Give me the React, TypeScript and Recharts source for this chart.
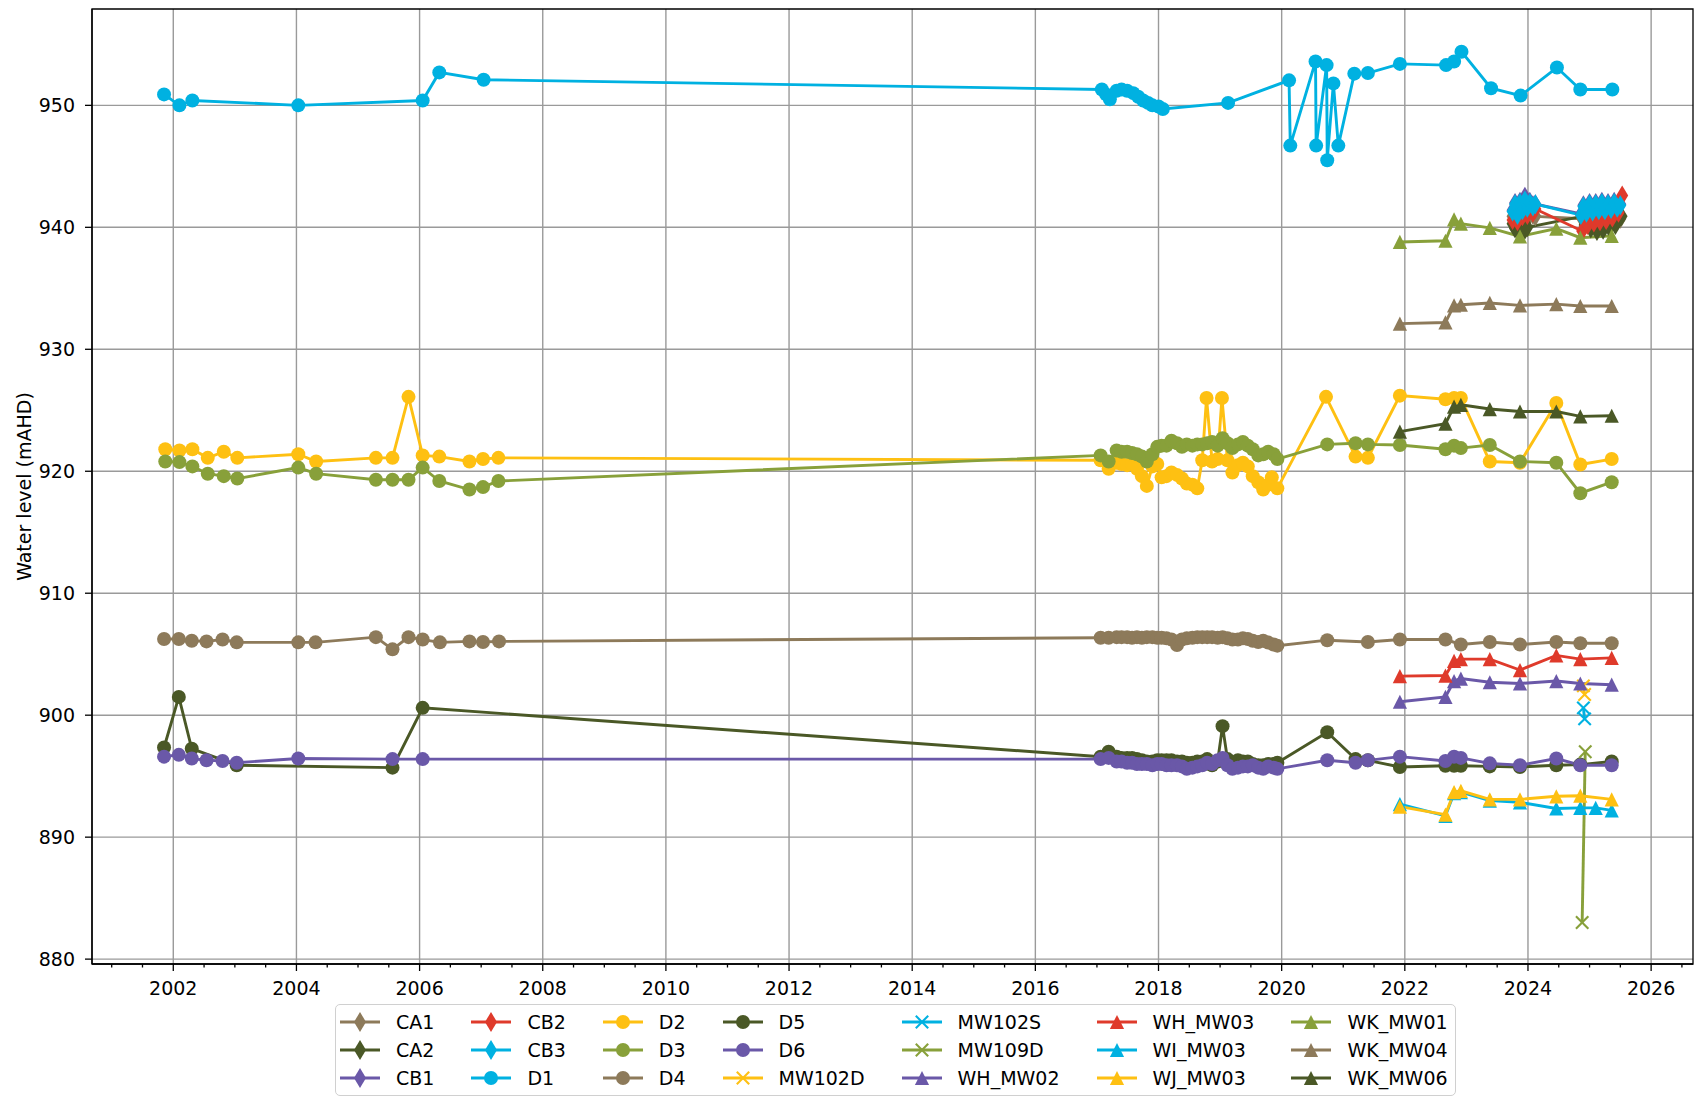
import React from 'react';
import { LineChart, Line, XAxis, YAxis, CartesianGrid, Legend, ReferenceArea } from 'recharts';

type P = [number, number];

// ---------- data: [decimal year, water level mAHD] ----------
const CA1: P[] = [
  [2023.75, 940.9], [2023.83, 940.6], [2023.91, 941.1], [2023.99, 940.7], [2024.08, 941.0], [2024.12, 940.9],
  [2024.88, 940.7], [2024.95, 940.3], [2025.05, 940.8], [2025.15, 940.4], [2025.25, 940.9], [2025.35, 940.5],
  [2025.45, 940.9], [2025.5, 940.7],
];
const CA2: P[] = [
  [2023.75, 940.3], [2023.79, 939.9], [2023.83, 940.4], [2023.87, 939.8], [2023.91, 940.2], [2023.95, 939.8],
  [2023.99, 940.0], [2024.88, 940.9], [2024.92, 940.2], [2024.97, 940.7], [2025.02, 939.9], [2025.07, 940.4],
  [2025.12, 939.7], [2025.17, 940.3], [2025.22, 939.8], [2025.27, 940.4], [2025.32, 940.0], [2025.37, 940.6],
  [2025.42, 940.2], [2025.47, 940.7], [2025.52, 940.9],
];
const CB1: P[] = [
  [2023.75, 941.4], [2023.79, 942.0], [2023.83, 941.1], [2023.87, 942.1], [2023.91, 941.5], [2023.95, 942.5],
  [2023.99, 941.7], [2024.03, 942.1], [2024.08, 941.8], [2024.12, 941.9], [2024.86, 941.1], [2024.9, 941.8],
  [2024.95, 941.3], [2025.0, 942.0], [2025.05, 941.4], [2025.1, 942.0], [2025.15, 941.5], [2025.2, 942.1],
  [2025.25, 941.5], [2025.3, 942.0], [2025.35, 941.6], [2025.4, 942.1], [2025.45, 941.7], [2025.5, 941.9],
];
const CB2: P[] = [
  [2023.75, 940.6], [2023.79, 941.2], [2023.83, 940.5], [2023.87, 941.4], [2023.91, 940.9], [2023.95, 941.6],
  [2023.99, 941.0], [2024.03, 941.5], [2024.08, 941.2], [2024.12, 941.5], [2024.88, 939.7], [2024.92, 940.6],
  [2024.97, 940.2], [2025.02, 941.0], [2025.07, 940.4], [2025.12, 941.1], [2025.17, 940.5], [2025.22, 941.2],
  [2025.27, 940.6], [2025.32, 941.2], [2025.37, 940.8], [2025.42, 941.4], [2025.47, 941.2], [2025.53, 942.6],
];
const CB3: P[] = [
  [2023.75, 941.3], [2023.79, 941.9], [2023.83, 941.0], [2023.87, 942.0], [2023.91, 941.4], [2023.95, 942.2],
  [2023.99, 941.6], [2024.03, 942.0], [2024.08, 941.7], [2024.12, 941.9], [2024.86, 941.0], [2024.9, 941.7],
  [2024.95, 941.2], [2025.0, 941.9], [2025.05, 941.3], [2025.1, 941.9], [2025.15, 941.4], [2025.2, 942.0],
  [2025.25, 941.4], [2025.3, 941.9], [2025.35, 941.5], [2025.4, 942.0], [2025.45, 941.6], [2025.5, 941.8],
];
const D1: P[] = [
  [2001.85, 950.9], [2002.1, 950.0], [2002.31, 950.4], [2004.03, 950.0], [2006.05, 950.4], [2006.32, 952.7],
  [2007.04, 952.1], [2017.08, 951.3], [2017.15, 950.9], [2017.21, 950.5], [2017.32, 951.2], [2017.4, 951.3],
  [2017.49, 951.2], [2017.59, 951.0], [2017.67, 950.7], [2017.75, 950.4], [2017.83, 950.2], [2017.9, 950.0],
  [2018.0, 949.9], [2018.07, 949.7], [2019.13, 950.2], [2020.12, 952.05], [2020.14, 946.7], [2020.55, 953.6],
  [2020.56, 946.7], [2020.73, 953.3], [2020.74, 945.5], [2020.84, 951.8], [2020.92, 946.7], [2021.18, 952.6],
  [2021.4, 952.65], [2021.92, 953.4], [2022.67, 953.3], [2022.8, 953.6], [2022.92, 954.4], [2023.4, 951.4],
  [2023.88, 950.8], [2024.47, 953.1], [2024.85, 951.3], [2025.37, 951.3],
];
const D2: P[] = [
  [2001.87, 921.8], [2002.1, 921.7], [2002.31, 921.8], [2002.56, 921.1], [2002.82, 921.6], [2003.04, 921.1],
  [2004.03, 921.4], [2004.32, 920.8], [2005.29, 921.1], [2005.56, 921.1], [2005.82, 926.1], [2006.05, 921.3],
  [2006.32, 921.2], [2006.81, 920.8], [2007.03, 921.0], [2007.28, 921.1],
  [2017.06, 920.9], [2017.19, 920.2], [2017.32, 920.7], [2017.4, 920.6], [2017.49, 920.5], [2017.57, 920.6],
  [2017.65, 920.2], [2017.73, 919.6], [2017.81, 918.8], [2017.9, 920.4], [2017.98, 920.6], [2018.05, 919.5],
  [2018.13, 919.6], [2018.21, 919.9], [2018.3, 919.7], [2018.38, 919.4], [2018.46, 919.0], [2018.55, 918.9],
  [2018.63, 918.6], [2018.71, 920.9], [2018.78, 926.0], [2018.87, 920.8], [2018.96, 921.0], [2019.03, 926.0],
  [2019.12, 920.9], [2019.2, 919.9], [2019.29, 920.5], [2019.37, 920.7], [2019.45, 920.4], [2019.53, 919.6],
  [2019.62, 919.1], [2019.7, 918.5], [2019.78, 918.9], [2019.84, 919.5], [2019.93, 918.6],
  [2020.72, 926.1], [2021.2, 921.2], [2021.4, 921.1], [2021.92, 926.2], [2022.66, 925.9], [2022.8, 926.0],
  [2022.91, 926.0], [2023.38, 920.8], [2023.87, 920.7], [2024.46, 925.6], [2024.85, 920.55], [2025.36, 921.0],
];
const D3: P[] = [
  [2001.87, 920.8], [2002.1, 920.75], [2002.31, 920.4], [2002.56, 919.8], [2002.82, 919.6], [2003.04, 919.4],
  [2004.03, 920.3], [2004.32, 919.8], [2005.29, 919.3], [2005.56, 919.3], [2005.82, 919.3], [2006.05, 920.3],
  [2006.32, 919.2], [2006.81, 918.5], [2007.03, 918.7], [2007.28, 919.2],
  [2017.06, 921.3], [2017.19, 920.8], [2017.32, 921.7], [2017.4, 921.6], [2017.49, 921.6], [2017.57, 921.5],
  [2017.65, 921.4], [2017.73, 921.2], [2017.81, 920.8], [2017.9, 921.4], [2017.98, 922.0], [2018.05, 922.1],
  [2018.13, 922.1], [2018.21, 922.5], [2018.3, 922.3], [2018.38, 922.0], [2018.46, 922.2], [2018.55, 922.1],
  [2018.63, 922.2], [2018.71, 922.2], [2018.79, 922.3], [2018.87, 922.4], [2018.96, 922.1], [2019.04, 922.7],
  [2019.12, 922.3], [2019.2, 921.9], [2019.29, 922.2], [2019.37, 922.4], [2019.45, 922.1], [2019.53, 921.8],
  [2019.62, 921.3], [2019.7, 921.4], [2019.78, 921.6], [2019.87, 921.4], [2019.93, 921.0],
  [2020.74, 922.2], [2021.2, 922.3], [2021.4, 922.2], [2021.92, 922.15], [2022.66, 921.8], [2022.8, 922.1],
  [2022.91, 921.9], [2023.38, 922.15], [2023.87, 920.8], [2024.46, 920.7], [2024.85, 918.2], [2025.36, 919.1],
];
const D4: P[] = [
  [2001.85, 906.25], [2002.09, 906.25], [2002.3, 906.1], [2002.54, 906.05], [2002.8, 906.2], [2003.03, 905.97],
  [2004.03, 905.97], [2004.31, 905.97], [2005.29, 906.4], [2005.56, 905.4], [2005.82, 906.4], [2006.05, 906.2],
  [2006.33, 905.97], [2006.81, 906.05], [2007.03, 906.0], [2007.29, 906.05],
  [2017.06, 906.35], [2017.19, 906.35], [2017.32, 906.4], [2017.4, 906.4], [2017.49, 906.4], [2017.57, 906.35],
  [2017.65, 906.4], [2017.73, 906.35], [2017.81, 906.4], [2017.9, 906.4], [2017.98, 906.35], [2018.05, 906.35],
  [2018.13, 906.3], [2018.21, 906.2], [2018.3, 905.75], [2018.38, 906.2], [2018.46, 906.3], [2018.55, 906.35],
  [2018.63, 906.4], [2018.71, 906.4], [2018.79, 906.4], [2018.87, 906.4], [2018.96, 906.35], [2019.04, 906.4],
  [2019.12, 906.3], [2019.2, 906.2], [2019.29, 906.2], [2019.37, 906.3], [2019.45, 906.25], [2019.53, 906.1],
  [2019.62, 906.0], [2019.7, 906.1], [2019.78, 905.95], [2019.87, 905.8], [2019.93, 905.7],
  [2020.74, 906.15], [2021.4, 906.0], [2021.92, 906.2], [2022.66, 906.2], [2022.91, 905.8], [2023.38, 906.0],
  [2023.87, 905.8], [2024.46, 906.0], [2024.85, 905.9], [2025.36, 905.9],
];
const D5: P[] = [
  [2001.85, 897.35], [2002.09, 901.5], [2002.3, 897.25], [2003.03, 895.9], [2005.56, 895.7], [2006.05, 900.6],
  [2017.06, 896.6], [2017.19, 897.0], [2017.32, 896.6], [2017.4, 896.5], [2017.49, 896.5], [2017.57, 896.5],
  [2017.65, 896.4], [2017.73, 896.3], [2017.81, 896.2], [2017.9, 896.2], [2017.98, 896.3], [2018.05, 896.3],
  [2018.13, 896.3], [2018.21, 896.3], [2018.3, 896.2], [2018.38, 896.2], [2018.46, 896.1], [2018.55, 896.1],
  [2018.63, 896.2], [2018.71, 896.2], [2018.79, 896.4], [2018.87, 895.9], [2018.96, 896.2], [2019.04, 899.1],
  [2019.12, 896.4], [2019.2, 896.0], [2019.29, 896.3], [2019.37, 896.2], [2019.45, 896.2], [2019.53, 896.0],
  [2019.62, 895.9], [2019.7, 895.9], [2019.78, 896.0], [2019.87, 896.0], [2019.93, 896.1],
  [2020.74, 898.6], [2021.2, 896.4], [2021.4, 896.3], [2021.92, 895.75], [2022.66, 895.85], [2022.8, 895.85],
  [2022.91, 895.85], [2023.38, 895.8], [2023.87, 895.75], [2024.46, 895.9], [2024.85, 895.95], [2025.36, 896.2],
];
const D6: P[] = [
  [2001.85, 896.6], [2002.09, 896.75], [2002.3, 896.45], [2002.54, 896.3], [2002.8, 896.25], [2003.03, 896.1],
  [2004.03, 896.45], [2005.56, 896.4], [2006.05, 896.4],
  [2017.06, 896.4], [2017.19, 896.5], [2017.32, 896.2], [2017.4, 896.2], [2017.49, 896.1], [2017.57, 896.1],
  [2017.65, 896.0], [2017.73, 896.0], [2017.81, 896.0], [2017.9, 895.9], [2017.98, 896.0], [2018.05, 896.0],
  [2018.13, 895.9], [2018.21, 895.9], [2018.3, 895.9], [2018.38, 895.8], [2018.46, 895.6], [2018.55, 895.7],
  [2018.63, 895.8], [2018.71, 895.9], [2018.79, 896.1], [2018.87, 896.0], [2018.96, 896.3], [2019.04, 896.5],
  [2019.12, 895.9], [2019.2, 895.6], [2019.29, 895.7], [2019.37, 895.8], [2019.45, 895.8], [2019.53, 895.9],
  [2019.62, 895.7], [2019.7, 895.6], [2019.78, 895.8], [2019.87, 895.7], [2019.93, 895.6],
  [2020.74, 896.3], [2021.2, 896.1], [2021.4, 896.3], [2021.92, 896.6], [2022.66, 896.25], [2022.8, 896.6],
  [2022.91, 896.5], [2023.38, 896.05], [2023.87, 895.9], [2024.46, 896.45], [2024.85, 895.9], [2025.36, 895.9],
];
const MW102D: P[] = [[2024.9, 902.4], [2024.92, 901.7]];
const MW102S: P[] = [[2024.9, 900.6], [2024.92, 899.7]];
const MW109D: P[] = [[2024.88, 883.0], [2024.93, 897.0]];
const WH_MW02: P[] = [
  [2021.92, 901.1], [2022.66, 901.5], [2022.8, 902.8], [2022.91, 903.0], [2023.38, 902.7], [2023.87, 902.6],
  [2024.46, 902.8], [2024.85, 902.6], [2025.36, 902.5],
];
const WH_MW03: P[] = [
  [2021.92, 903.2], [2022.66, 903.25], [2022.8, 904.45], [2022.91, 904.6], [2023.38, 904.6], [2023.87, 903.7],
  [2024.46, 904.9], [2024.85, 904.6], [2025.36, 904.7],
];
const WI_MW03: P[] = [
  [2021.92, 892.7], [2022.66, 891.75], [2022.8, 893.6], [2022.91, 893.7], [2023.38, 893.0], [2023.87, 892.85],
  [2024.46, 892.35], [2024.85, 892.4], [2025.1, 892.4], [2025.36, 892.2],
];
const WJ_MW03: P[] = [
  [2021.92, 892.5], [2022.66, 891.85], [2022.8, 893.7], [2022.91, 893.8], [2023.38, 893.1], [2023.87, 893.1],
  [2024.46, 893.35], [2024.85, 893.4], [2025.36, 893.1],
];
const WK_MW01: P[] = [
  [2021.92, 938.8], [2022.66, 938.9], [2022.8, 940.65], [2022.91, 940.3], [2023.38, 939.95], [2023.87, 939.25],
  [2024.46, 939.9], [2024.85, 939.15], [2025.36, 939.3],
];
const WK_MW04: P[] = [
  [2021.92, 932.1], [2022.66, 932.2], [2022.8, 933.6], [2022.91, 933.65], [2023.38, 933.8], [2023.87, 933.6],
  [2024.46, 933.7], [2024.85, 933.55], [2025.36, 933.55],
];
const WK_MW06: P[] = [
  [2021.92, 923.25], [2022.66, 923.9], [2022.8, 925.3], [2022.91, 925.45], [2023.38, 925.1], [2023.87, 924.9],
  [2024.46, 924.9], [2024.85, 924.5], [2025.36, 924.55],
];

// ---------- axes ----------
const X_DOMAIN: [number, number] = [2000.68, 2026.68];
const Y_DOMAIN: [number, number] = [879.6, 957.9];
const MAJOR_YEARS = [2002, 2004, 2006, 2008, 2010, 2012, 2014, 2016, 2018, 2020, 2022, 2024, 2026];
const X_TICKS = [
  2001, 2001.5, 2002, 2002.5, 2003, 2003.5, 2004, 2004.5, 2005, 2005.5, 2006, 2006.5, 2007, 2007.5,
  2008, 2008.5, 2009, 2009.5, 2010, 2010.5, 2011, 2011.5, 2012, 2012.5, 2013, 2013.5, 2014, 2014.5,
  2015, 2015.5, 2016, 2016.5, 2017, 2017.5, 2018, 2018.5, 2019, 2019.5, 2020, 2020.5, 2021, 2021.5,
  2022, 2022.5, 2023, 2023.5, 2024, 2024.5, 2025, 2025.5, 2026, 2026.5,
];
const Y_TICKS = [880, 890, 900, 910, 920, 930, 940, 950];

// ---------- style ----------
const BROWN = '#8D7A5A';
const DKOLIVE = '#4A5826';
const PURPLE = '#6A58A8';
const RED = '#DF3A2B';
const BLUE = '#00B1E1';
const YELLOW = '#FEC012';
const GREEN = '#88A03A';
const FONT = 'DejaVu Sans';
const LW = 2.9;

type MarkerKind = 'diamond' | 'circle' | 'x' | 'triangle';

const SERIES: { name: string; pts: P[]; color: string; marker: MarkerKind }[] = [
  { name: 'CA1', pts: CA1, color: BROWN, marker: 'diamond' },
  { name: 'CA2', pts: CA2, color: DKOLIVE, marker: 'diamond' },
  { name: 'CB1', pts: CB1, color: PURPLE, marker: 'diamond' },
  { name: 'CB2', pts: CB2, color: RED, marker: 'diamond' },
  { name: 'CB3', pts: CB3, color: BLUE, marker: 'diamond' },
  { name: 'D1', pts: D1, color: BLUE, marker: 'circle' },
  { name: 'D2', pts: D2, color: YELLOW, marker: 'circle' },
  { name: 'D3', pts: D3, color: GREEN, marker: 'circle' },
  { name: 'D4', pts: D4, color: BROWN, marker: 'circle' },
  { name: 'D5', pts: D5, color: DKOLIVE, marker: 'circle' },
  { name: 'D6', pts: D6, color: PURPLE, marker: 'circle' },
  { name: 'MW102D', pts: MW102D, color: YELLOW, marker: 'x' },
  { name: 'MW102S', pts: MW102S, color: BLUE, marker: 'x' },
  { name: 'MW109D', pts: MW109D, color: GREEN, marker: 'x' },
  { name: 'WH_MW02', pts: WH_MW02, color: PURPLE, marker: 'triangle' },
  { name: 'WH_MW03', pts: WH_MW03, color: RED, marker: 'triangle' },
  { name: 'WI_MW03', pts: WI_MW03, color: BLUE, marker: 'triangle' },
  { name: 'WJ_MW03', pts: WJ_MW03, color: YELLOW, marker: 'triangle' },
  { name: 'WK_MW01', pts: WK_MW01, color: GREEN, marker: 'triangle' },
  { name: 'WK_MW04', pts: WK_MW04, color: BROWN, marker: 'triangle' },
  { name: 'WK_MW06', pts: WK_MW06, color: DKOLIVE, marker: 'triangle' },
];
const LOOKUP: Record<string, { color: string; marker: MarkerKind }> = {};
SERIES.forEach((s) => { LOOKUP[s.name] = { color: s.color, marker: s.marker }; });

const Marker = ({ kind, color, cx, cy }: { kind: MarkerKind; color: string; cx: number; cy: number }) => {
  if (kind === 'circle') return <circle cx={cx} cy={cy} r={7} fill={color} />;
  if (kind === 'diamond') {
    const h = 10, w = 6;
    return <polygon points={`${cx},${cy - h} ${cx + w},${cy} ${cx},${cy + h} ${cx - w},${cy}`} fill={color} />;
  }
  if (kind === 'triangle') {
    const s = 7.1;
    return <polygon points={`${cx},${cy - s} ${cx + s},${cy + s} ${cx - s},${cy + s}`} fill={color} />;
  }
  const d = 6.2;
  return (
    <g stroke={color} strokeWidth={2.1}>
      <line x1={cx - d} y1={cy - d} x2={cx + d} y2={cy + d} />
      <line x1={cx - d} y1={cy + d} x2={cx + d} y2={cy - d} />
    </g>
  );
};

const makeDot = (kind: MarkerKind, color: string) => (props: any) => {
  const { cx, cy, index } = props;
  if (cx == null || cy == null || isNaN(cx) || isNaN(cy)) return <g key={`e${index}`} />;
  return <Marker key={`m${index}`} kind={kind} color={color} cx={cx} cy={cy} />;
};

const XTick = (props: any) => {
  const { x, y, payload } = props;
  const v = payload.value;
  const major = MAJOR_YEARS.indexOf(v) >= 0;
  return (
    <g>
      <line x1={x} x2={x} y1={y} y2={y + (major ? 7 : 3.5)} stroke="#000" strokeWidth={1.3} />
      {major && (
        <text x={x} y={y + 31} textAnchor="middle" fontSize={19} fontFamily={FONT} fill="#000">
          {v}
        </text>
      )}
    </g>
  );
};

const renderLegend = (props: any) => {
  const payload = props.payload || [];
  return (
    <div
      style={{
        display: 'inline-grid',
        gridTemplateRows: 'repeat(3, 28px)',
        gridAutoFlow: 'column',
        columnGap: 37,
        padding: '3px 7px 3px 4px',
        border: '1px solid #d0d0d0',
        borderRadius: 5,
        background: '#fff',
        fontFamily: FONT,
        fontSize: 19,
        color: '#000',
        boxSizing: 'border-box',
      }}
    >
      {payload.map((e: any) => {
        const s = LOOKUP[e.value] || { color: e.color, marker: 'circle' as MarkerKind };
        return (
          <div key={e.value} style={{ display: 'flex', alignItems: 'center', whiteSpace: 'nowrap', height: 28 }}>
            <svg width={40} height={26} style={{ overflow: 'visible' }}>
              <line x1={0} y1={13} x2={40} y2={13} stroke={s.color} strokeWidth={LW} />
              <Marker kind={s.marker} color={s.color} cx={20} cy={13} />
            </svg>
            <span style={{ marginLeft: 16, lineHeight: '28px' }}>{e.value}</span>
          </div>
        );
      })}
    </div>
  );
};

const YLabel = (props: any) => {
  const vb = props.viewBox || {};
  const cy = (vb.y || 0) + (vb.height || 0) / 2;
  return (
    <text
      x={24}
      y={cy}
      transform={`rotate(-90, 24, ${cy})`}
      textAnchor="middle"
      dominantBaseline="central"
      fontSize={19}
      fontFamily={FONT}
      fill="#000"
    >
      Water level (mAHD)
    </text>
  );
};

export default function App() {
  return (
    <div style={{ position: 'absolute', left: 0, top: 0, width: 1695, height: 1098, background: '#fff' }}>
      <LineChart
        width={1695}
        height={1098}
        margin={{ top: 9, right: 2, bottom: 0, left: 0 }}
        style={{ fontFamily: FONT }}
      >
        <CartesianGrid
          stroke="#9a9a9a"
          strokeWidth={1.4}
          verticalValues={MAJOR_YEARS}
          horizontalValues={Y_TICKS}
        />
        <XAxis
          type="number"
          dataKey="t"
          domain={X_DOMAIN}
          allowDataOverflow
          ticks={X_TICKS}
          interval={0}
          tick={<XTick />}
          tickLine={false}
          tickSize={0}
          tickMargin={0}
          axisLine={{ stroke: '#000', strokeWidth: 1.3 }}
          height={42}
        />
        <YAxis
          type="number"
          domain={Y_DOMAIN}
          allowDataOverflow
          ticks={Y_TICKS}
          interval={0}
          width={92}
          tickSize={7}
          tickMargin={10}
          tickLine={{ stroke: '#000', strokeWidth: 1.3 }}
          axisLine={{ stroke: '#000', strokeWidth: 1.3 }}
          tick={{ fontSize: 19, fill: '#000', fontFamily: FONT }}
          label={<YLabel />}
        />
        {SERIES.map((s) => (
          <Line
            key={s.name}
            name={s.name}
            data={s.pts.map(([t, v]) => ({ t, v }))}
            dataKey="v"
            type="linear"
            stroke={s.color}
            strokeWidth={LW}
            dot={makeDot(s.marker, s.color)}
            activeDot={false}
            isAnimationActive={false}
            legendType="line"
          />
        ))}
        <ReferenceArea
          x1={X_DOMAIN[0]}
          x2={X_DOMAIN[1]}
          y1={Y_DOMAIN[0]}
          y2={Y_DOMAIN[1]}
          fill="none"
          fillOpacity={0}
          stroke="#000"
          strokeWidth={1.3}
          ifOverflow="visible"
        />
        <Legend
          verticalAlign="bottom"
          align="left"
          content={renderLegend}
          wrapperStyle={{ left: 335, bottom: 2, width: 'auto' }}
        />
      </LineChart>
    </div>
  );
}
